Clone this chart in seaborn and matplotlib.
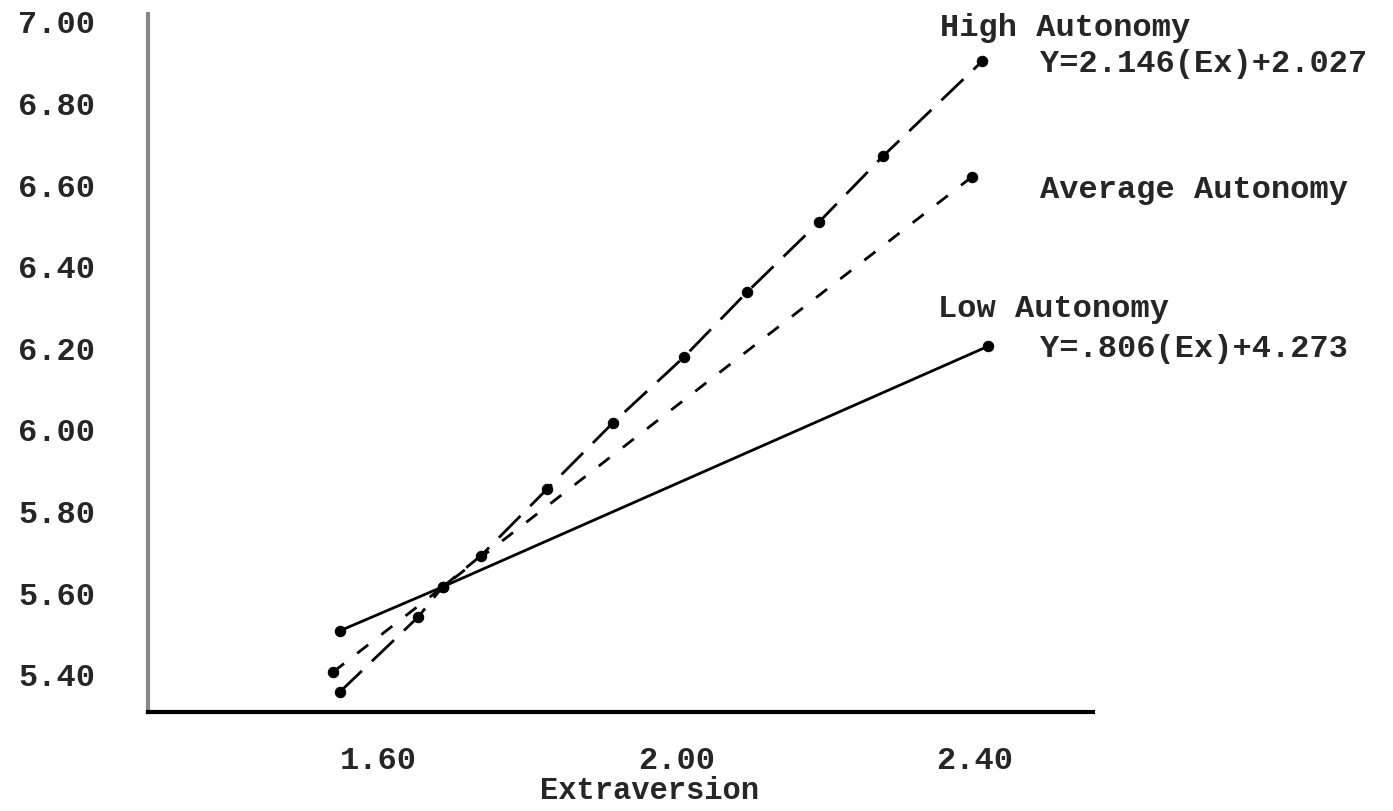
import pandas as pd
import matplotlib.pyplot as plt
import seaborn as sns

# valores
high_x = [1.549, 1.654, 1.687, 1.738, 1.827, 1.915, 2.010, 2.095, 2.191, 2.277, 2.410]
high_y = [5.355, 5.539, 5.613, 5.689, 5.853, 6.015, 6.176, 6.336, 6.507, 6.669, 6.902]
avg_x = [1.540, 2.396]
avg_y = [5.404, 6.618]
low_x = [1.549, 1.687, 2.418]
low_y = [5.505, 5.613, 6.203]

x_ticks = [1.6, 2.0, 2.4]
y_ticks = [5.4, 5.6, 5.8, 6.0, 6.2, 6.4, 6.6, 6.8, 7.0]

sns.set_style('white')
plt.rcParams['font.family'] = ['Liberation Mono', 'DejaVu Sans']
plt.rcParams['font.weight'] = 'bold'

fig = plt.figure(figsize=(13.93, 8.12), dpi=100)
ax = fig.add_axes([0.1062, 0.1219, 0.6784, 0.8596])

mk = dict(marker='o', markersize=7.5, markeredgecolor='black', markerfacecolor='black', color='black', linewidth=2)

sns.lineplot(x=high_x, y=high_y, ax=ax, linestyle=(0, (11, 5)), **mk)
sns.lineplot(x=avg_x, y=avg_y, ax=ax, linestyle=(0, (5, 6)), **mk)
sns.lineplot(x=low_x, y=low_y, ax=ax, linestyle='-', **mk)

ax.set_xlim(1.292, 2.558)
ax.set_ylim(5.306, 7.017)
ax.set_xticks(x_ticks)
ax.set_xticklabels(['%.2f' % v for v in x_ticks])
ax.set_yticks(y_ticks)
ax.set_yticklabels(['%.2f' % v for v in y_ticks])
ax.tick_params(axis='both', length=0, labelsize=23)
ax.tick_params(axis='y', pad=38)
ax.tick_params(axis='x', pad=24)
for t in ax.get_xticklabels() + ax.get_yticklabels():
    t.set_fontweight('bold')

sns.despine(ax=ax)
ax.spines['left'].set_color('#888888')
ax.spines['left'].set_linewidth(3)
ax.spines['bottom'].set_color('black')
ax.spines['bottom'].set_linewidth(3)

ax.set_xlabel('Extraversion', fontsize=22, fontweight='bold', va='center')
ax.xaxis.set_label_coords(0.531, -0.112)
ax.set_ylabel('')

txt = dict(fontsize=23, fontweight='bold', va='center', ha='left', clip_on=False)
ax.text(2.353, 6.985, 'High Autonomy', **txt)
ax.text(2.487, 6.897, 'Y=2.146(Ex)+2.027', **txt)
ax.text(2.487, 6.588, 'Average Autonomy', **txt)
ax.text(2.351, 6.297, 'Low Autonomy', **txt)
ax.text(2.487, 6.199, 'Y=.806(Ex)+4.273', **txt)

plt.savefig('out.png', dpi=100)
